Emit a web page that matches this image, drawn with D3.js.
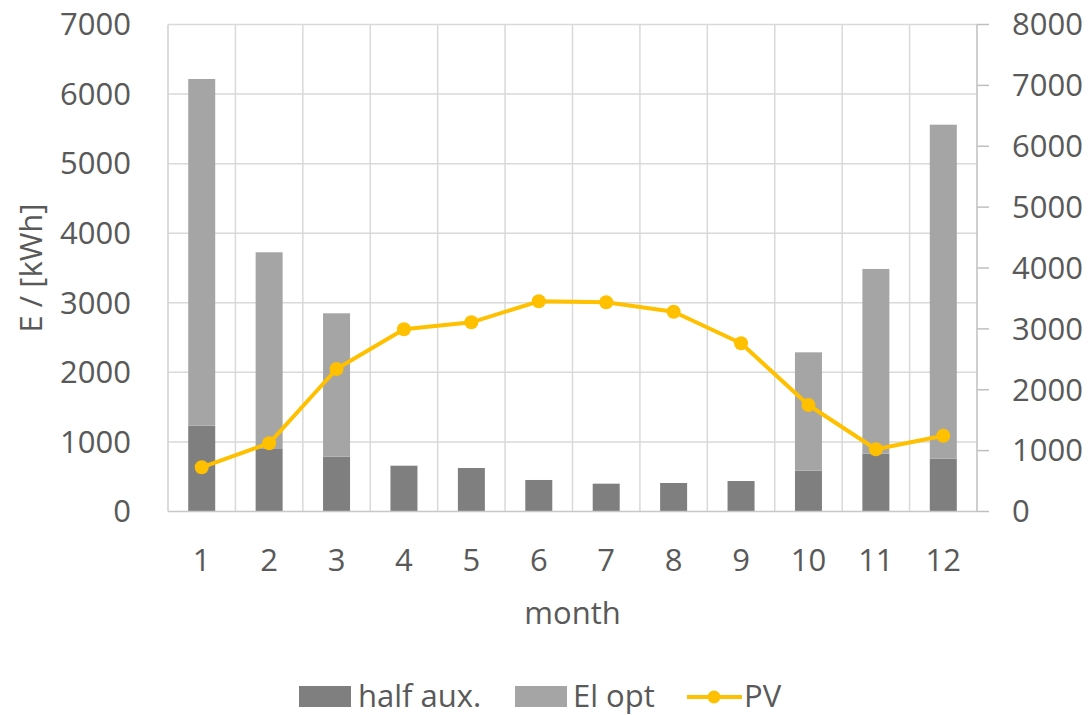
<!DOCTYPE html>
<html><head><meta charset="utf-8">
<script src="https://cdn.jsdelivr.net/npm/d3@7"></script>
<style>
html,body{margin:0;padding:0;background:#fff;}
text{font-family:"Open Sans",sans-serif;fill:#595959;}
</style></head>
<body>
<svg id="chart" width="1091" height="715"></svg>
<script>
const months = ["1","2","3","4","5","6","7","8","9","10","11","12"];
const halfAux = [1233, 908, 788, 658, 625, 453, 400, 410, 438, 586, 831, 759];
const elOpt = [4984, 2818, 2061, 0, 0, 0, 0, 0, 0, 1702, 2655, 4801];
const pv = [726, 1120, 2341, 2993, 3108, 3453, 3437, 3282, 2763, 1749, 1022, 1245];
const leftTicks = [0,1000,2000,3000,4000,5000,6000,7000];
const rightTicks = [0,1000,2000,3000,4000,5000,6000,7000,8000];
const seriesNames = ["half aux.", "El opt", "PV"];
const colors = {aux:"#7f7f7f", el:"#a5a5a5", pv:"#ffc000"};

const svg = d3.select("#chart");
const m = {left:168, right:977, top:24.5, bottom:511.5};
const x = d3.scaleBand().domain(months).range([m.left, m.right]).paddingInner(0).paddingOuter(0);
const yL = d3.scaleLinear().domain([0,7000]).range([m.bottom, m.top]);
const yR = d3.scaleLinear().domain([0,8000]).range([m.bottom, m.top]);

// gridlines
const g = svg.append("g");
g.selectAll("line.h").data(leftTicks.slice(1)).join("line")
  .attr("x1", m.left).attr("x2", m.right)
  .attr("y1", d=>yL(d)).attr("y2", d=>yL(d))
  .attr("stroke","#d9d9d9").attr("stroke-width",1.5);
g.selectAll("line.v").data(months.slice(1)).join("line")
  .attr("x1", d=>x(d)).attr("x2", d=>x(d))
  .attr("y1", m.top).attr("y2", m.bottom)
  .attr("stroke","#d9d9d9").attr("stroke-width",1.5);
// left axis line
g.append("line").attr("x1",m.left).attr("x2",m.left).attr("y1",m.top).attr("y2",m.bottom)
  .attr("stroke","#d0d0d0").attr("stroke-width",1.5);

// bars
const bw = 27;
const barG = svg.append("g");
barG.selectAll("rect.aux").data(months).join("rect")
  .attr("x", d=>x(d)+x.bandwidth()/2-bw/2).attr("width", bw)
  .attr("y", (d,i)=>yL(halfAux[i])).attr("height",(d,i)=>yL(0)-yL(halfAux[i]))
  .attr("fill", colors.aux);
barG.selectAll("rect.el").data(months).join("rect")
  .attr("x", d=>x(d)+x.bandwidth()/2-bw/2).attr("width", bw)
  .attr("y", (d,i)=>yL(halfAux[i]+elOpt[i])).attr("height",(d,i)=>yL(halfAux[i])-yL(halfAux[i]+elOpt[i]))
  .attr("fill", colors.el);

// bottom axis line
svg.append("line").attr("x1",m.left).attr("x2",m.right).attr("y1",m.bottom).attr("y2",m.bottom)
  .attr("stroke","#c8c8c8").attr("stroke-width",1.5);
// right axis
const rAx = svg.append("g");
rAx.append("line").attr("x1",m.right).attr("x2",m.right).attr("y1",m.top).attr("y2",m.bottom)
  .attr("stroke","#bfbfbf").attr("stroke-width",1.5);
rAx.selectAll("line.t").data(rightTicks).join("line")
  .attr("x1",m.right).attr("x2",m.right+12)
  .attr("y1",d=>yR(d)).attr("y2",d=>yR(d))
  .attr("stroke","#bfbfbf").attr("stroke-width",1.5);

// PV line
const cx = d=>x(d)+x.bandwidth()/2;
svg.append("path").datum(months)
  .attr("d", d3.line().x(cx).y((d,i)=>yR(pv[i])))
  .attr("fill","none").attr("stroke",colors.pv).attr("stroke-width",4).attr("stroke-linejoin","round");
svg.selectAll("circle.pv").data(months).join("circle")
  .attr("cx",cx).attr("cy",(d,i)=>yR(pv[i])).attr("r",7).attr("fill",colors.pv);

// tick labels
const fs = 31;
svg.selectAll("text.yl").data(leftTicks).join("text")
  .attr("x",131).attr("y",d=>yL(d)).attr("dy","0.35em")
  .attr("text-anchor","end").attr("font-size",fs).text(d=>d);
svg.selectAll("text.yr").data(rightTicks).join("text")
  .attr("x",1012).attr("y",d=>yR(d)).attr("dy","0.35em")
  .attr("text-anchor","start").attr("font-size",fs).text(d=>d);
svg.selectAll("text.xl").data(months).join("text")
  .attr("x",cx).attr("y",571)
  .attr("text-anchor","middle").attr("font-size",fs).text(d=>d);
svg.append("text").attr("x",(m.left+m.right)/2).attr("y",624)
  .attr("text-anchor","middle").attr("font-size",fs).text("month");
svg.append("text").attr("transform",`translate(42,${(m.top+m.bottom)/2}) rotate(-90)`)
  .attr("text-anchor","middle").attr("font-size",fs).text("E / [kWh]");

// legend
const lg = svg.append("g");
lg.append("rect").attr("x",299).attr("y",686).attr("width",52).attr("height",21).attr("fill",colors.aux);
lg.append("text").attr("x",358).attr("y",707).attr("font-size",fs).text(seriesNames[0]);
lg.append("rect").attr("x",515).attr("y",686).attr("width",52).attr("height",21).attr("fill",colors.el);
lg.append("text").attr("x",573).attr("y",707).attr("font-size",fs).text(seriesNames[1]);
lg.append("line").attr("x1",687).attr("x2",742).attr("y1",697).attr("y2",697).attr("stroke",colors.pv).attr("stroke-width",4);
lg.append("circle").attr("cx",714).attr("cy",697).attr("r",6.5).attr("fill",colors.pv);
lg.append("text").attr("x",744).attr("y",707).attr("font-size",fs).text(seriesNames[2]);
</script>
</body></html>
